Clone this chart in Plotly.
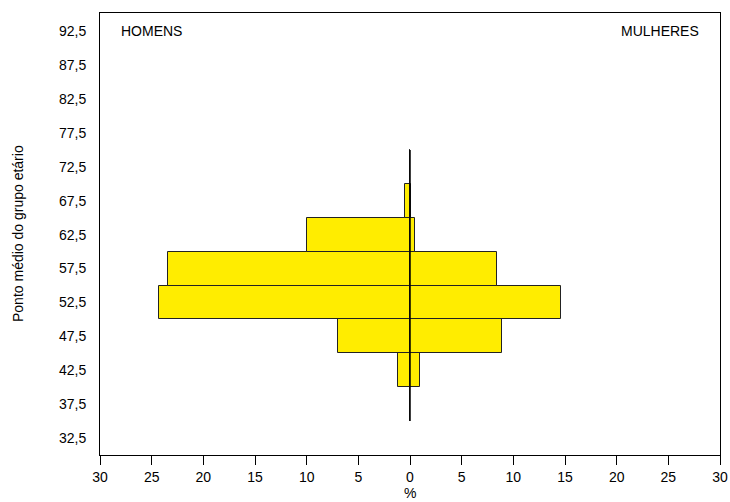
import plotly.graph_objects as go

age_mid = [37.5, 42.5, 47.5, 52.5, 57.5, 62.5, 67.5, 72.5]
homens = [0.0, 1.2, 7.0, 24.3, 23.4, 10.0, 0.45, 0.0]
mulheres = [0.0, 1.0, 8.9, 14.6, 8.45, 0.5, 0.05, 0.0]
x_ticks = [-30, -25, -20, -15, -10, -5, 0, 5, 10, 15, 20, 25, 30]
y_ticks = [32.5, 37.5, 42.5, 47.5, 52.5, 57.5, 62.5, 67.5, 72.5, 77.5, 82.5, 87.5, 92.5]

yellow = "#FFED00"
font = "Liberation Sans, Arial, sans-serif"

fig = go.Figure()
fig.add_trace(go.Bar(
    y=age_mid, x=[-v for v in homens], orientation="h", width=5,
    marker=dict(color=yellow, line=dict(color="#222222", width=1)),
    showlegend=False, hoverinfo="skip"))
fig.add_trace(go.Bar(
    y=age_mid, x=mulheres, orientation="h", width=5,
    marker=dict(color=yellow, line=dict(color="#222222", width=1)),
    showlegend=False, hoverinfo="skip"))

y_lo = min(age_mid) - 2.5
y_hi = max(age_mid) + 2.5
fig.add_trace(go.Scatter(x=[0, 0], y=[y_lo, y_hi], mode="lines",
                         line=dict(color="black", width=1.5),
                         showlegend=False, hoverinfo="skip"))

fig.update_layout(
    width=730, height=502,
    margin=dict(l=100, r=10, t=13, b=47),
    paper_bgcolor="white", plot_bgcolor="white",
    barmode="overlay", bargap=0,
    font=dict(family=font, size=14, color="black"),
    annotations=[
        dict(text="HOMENS", x=0.03, y=92.5, xref="paper", yref="y",
             showarrow=False, xanchor="left", font=dict(size=14)),
        dict(text="MULHERES", x=0.97, y=92.5, xref="paper", yref="y",
             showarrow=False, xanchor="right", font=dict(size=14)),
        dict(text="Ponto médio do grupo etário", textangle=-90,
             x=0, xref="paper", xanchor="center", xshift=-82,
             y=0.5, yref="paper", showarrow=False, font=dict(size=14)),
        dict(text="%", x=0.5, xref="paper", xanchor="center",
             y=0, yref="paper", yanchor="middle", yshift=-38,
             showarrow=False, font=dict(size=14)),
    ],
)

fig.update_xaxes(
    range=[-30, 30], tickvals=x_ticks, ticktext=[str(abs(v)) for v in x_ticks],
    ticks="outside", ticklen=9, tickcolor="black", showgrid=False, zeroline=False,
    showline=True, linecolor="black", linewidth=1, mirror=True, automargin=False,
    tickfont=dict(size=14))
fig.update_yaxes(
    range=[30, 95.2], tickvals=y_ticks,
    ticktext=[f"{v:.1f}".replace(".", ",") for v in y_ticks],
    ticks="outside", ticklen=10, tickcolor="rgba(0,0,0,0)",
    showgrid=False, zeroline=False, automargin=False,
    showline=True, linecolor="black", linewidth=1, mirror=True,
    tickfont=dict(size=14))

fig.write_html("out.html", config={"displayModeBar": False},
               post_script="document.body.style.margin='0px';")
